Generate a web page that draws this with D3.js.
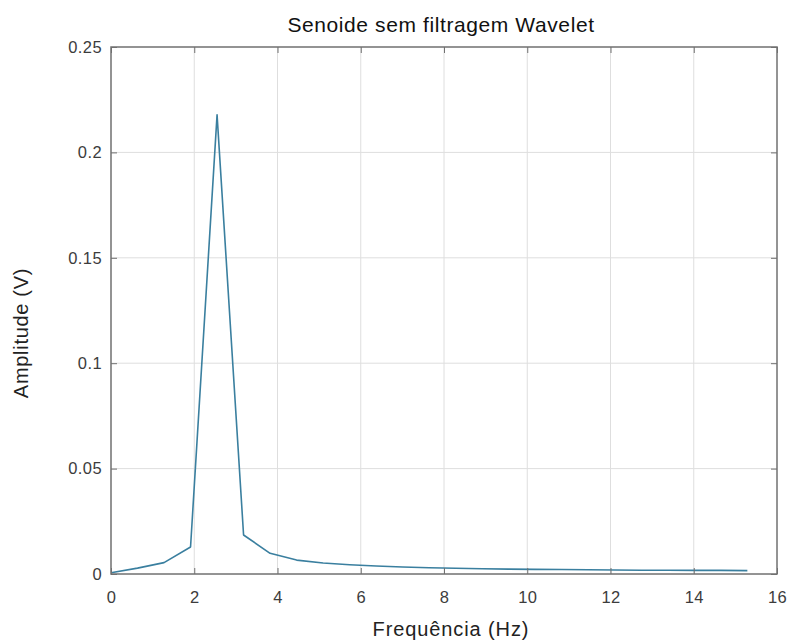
<!DOCTYPE html>
<html>
<head>
<meta charset="utf-8">
<script src="https://cdn.jsdelivr.net/npm/d3@7"></script>
<style>
  body { margin: 0; background: #fff; }
  text { font-family: "Liberation Sans", Arial, sans-serif; }
</style>
</head>
<body>
<script>
// Données
const freq = [0, 0.637, 1.274, 1.911, 2.548, 3.185, 3.822, 4.459, 5.096, 5.733, 6.370, 7.007,
    7.644, 8.281, 8.918, 9.555, 10.192, 10.829, 11.466, 12.103, 12.740, 13.377, 14.014, 14.651, 15.288];
const amp = [0.0006, 0.0028, 0.0054, 0.0128, 0.2178, 0.0185, 0.0098, 0.0066, 0.0052, 0.0044, 0.0038, 0.0033,
    0.0030, 0.0027, 0.0025, 0.0023, 0.0022, 0.0021, 0.0020, 0.0019, 0.0018, 0.0018, 0.0017, 0.0017, 0.0016];
const xTicks = [0, 2, 4, 6, 8, 10, 12, 14, 16];
const yTicks = [0, 0.05, 0.1, 0.15, 0.2, 0.25];
const yTickLabels = ["0", "0.05", "0.1", "0.15", "0.2", "0.25"];

const width = 793, height = 641;
const margin = { top: 47, right: 16, bottom: 67, left: 111 };

const svg = d3.select("body").append("svg").attr("width", width).attr("height", height);

const x = d3.scaleLinear().domain([0, 16]).range([margin.left, width - margin.right]);
const y = d3.scaleLinear().domain([0, 0.25]).range([height - margin.bottom, margin.top]);

// grille
const grid = svg.append("g").attr("stroke", "#dedede").attr("stroke-width", 1);
xTicks.slice(1, -1).forEach(t => {
    grid.append("line").attr("x1", x(t)).attr("x2", x(t)).attr("y1", y(0)).attr("y2", y(0.25));
});
yTicks.slice(1, -1).forEach(t => {
    grid.append("line").attr("x1", x(0)).attr("x2", x(16)).attr("y1", y(t)).attr("y2", y(t));
});

// courbe
const line = d3.line().x((d, i) => x(freq[i])).y(d => y(d));
svg.append("path")
    .datum(amp)
    .attr("d", line)
    .attr("fill", "none")
    .attr("stroke", "#3a7f9f")
    .attr("stroke-width", 1.6)
    .attr("stroke-linejoin", "round");

// axes (ticks vers l'intérieur, style MATLAB)
const axisColor = "#707070";
const tk = 6;
svg.append("g")
    .attr("transform", `translate(0,${y(0)})`)
    .call(d3.axisBottom(x).tickValues(xTicks).tickSize(-tk).tickPadding(17).tickFormat(d3.format("d")))
    .call(g => g.select(".domain").remove());
svg.append("g")
    .attr("transform", `translate(0,${y(0.25)})`)
    .call(d3.axisTop(x).tickValues(xTicks).tickSize(-tk).tickFormat(""))
    .call(g => g.select(".domain").remove());
svg.append("g")
    .attr("transform", `translate(${x(0)},0)`)
    .call(d3.axisLeft(y).tickValues(yTicks).tickSize(-tk).tickPadding(9).tickFormat((d, i) => yTickLabels[i]))
    .call(g => g.select(".domain").remove());
svg.append("g")
    .attr("transform", `translate(${x(16)},0)`)
    .call(d3.axisRight(y).tickValues(yTicks).tickSize(-tk).tickFormat(""))
    .call(g => g.select(".domain").remove());

svg.selectAll(".tick line").attr("stroke", axisColor);
svg.selectAll(".tick text").attr("fill", "#3c3c3c")
    .style("font-size", "16.5px").style("letter-spacing", "0.4px");

svg.append("rect")
    .attr("x", x(0)).attr("y", y(0.25))
    .attr("width", x(16) - x(0)).attr("height", y(0) - y(0.25))
    .attr("fill", "none").attr("stroke", axisColor).attr("stroke-width", 1.5);

// titres
svg.append("text")
    .attr("x", 441).attr("y", 32)
    .attr("text-anchor", "middle").style("font-size", "21px").style("letter-spacing", "0.6px")
    .attr("fill", "#111")
    .text("Senoide sem filtragem Wavelet");
svg.append("text")
    .attr("x", 451).attr("y", 636)
    .attr("text-anchor", "middle").style("font-size", "20px").style("letter-spacing", "0.9px")
    .attr("fill", "#222")
    .text("Frequência (Hz)");
svg.append("text")
    .attr("transform", `translate(28,333) rotate(-90)`)
    .attr("text-anchor", "middle").style("font-size", "20px").style("letter-spacing", "0.7px")
    .attr("fill", "#222")
    .text("Amplitude (V)");
</script>
</body>
</html>
